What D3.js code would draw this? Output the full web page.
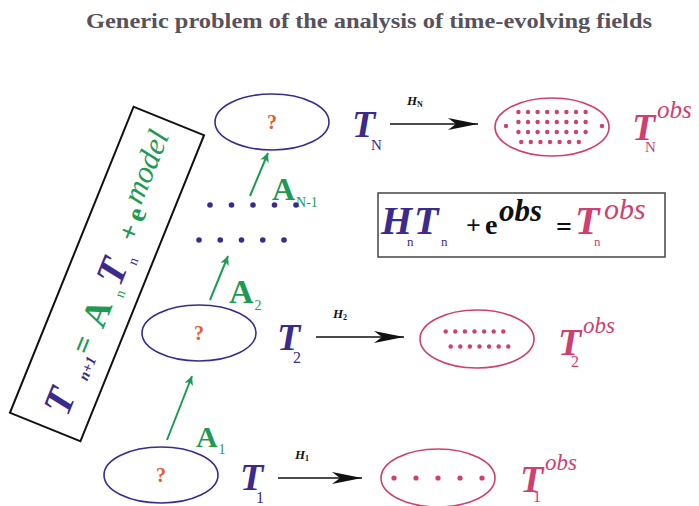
<!DOCTYPE html>
<html><head><meta charset="utf-8">
<script src="https://cdn.jsdelivr.net/npm/d3@7/dist/d3.min.js"></script>
<style>body{margin:0;background:#fff}svg{display:block}</style>
</head><body>
<script>
// ---- data ----
const title = "Generic problem of the analysis of time-evolving fields";
const levels = ["1", "2", "N"];              // state indices
const operatorLabels = ["1", "2", "N-1"];    // model operator subscripts
const obsRows = [[5], [7, 7], [8, 8, 8, 7]]; // observation dots per row, per level
const gapDots = [5, 5];                      // "..." rows between levels

const purple = "#3b2b8c", green = "#1f9a55", pink = "#cf3f70", orange = "#e0602e";
const serif = "'Liberation Serif','DejaVu Serif',serif";

const W = 699, H = 506;
const svg = d3.select("body").append("svg").attr("width", W).attr("height", H)
  .style("font-family", serif);

function rich(parent, parts) {
  const t = parent.append("text");
  parts.forEach(p => {
    t.append("tspan").attr("x", p.x).attr("y", p.y)
      .attr("font-size", p.s).attr("font-style", p.i ? "italic" : "normal")
      .attr("font-weight", p.b ? "bold" : "normal").attr("fill", p.f).text(p.t);
  });
  return t;
}

const defs = svg.append("defs");
defs.append("marker").attr("id", "blk").attr("viewBox", "0 0 30 12").attr("refX", 30).attr("refY", 6)
  .attr("markerWidth", 30).attr("markerHeight", 12).attr("markerUnits", "userSpaceOnUse").attr("orient", "auto")
  .append("path").attr("d", "M0,0 L30,6 L0,12 L8,6 Z").attr("fill", "#111");
defs.append("marker").attr("id", "grn").attr("viewBox", "0 0 12 16").attr("refX", 12).attr("refY", 6)
  .attr("markerWidth", 16).attr("markerHeight", 12).attr("markerUnits", "userSpaceOnUse").attr("orient", "auto")
  .append("path").attr("d", "M0,0 L12,6 L0,12 L3,6 Z").attr("fill", green);

// title
svg.append("text").attr("x", 86).attr("y", 28)
  .attr("font-size", 20).attr("font-weight", "bold").attr("fill", "#57525c")
  .attr("textLength", 566).attr("lengthAdjust", "spacingAndGlyphs").text(title);

const layout = [
  { sx: 161, sy: 475, tx: 240, ty: 490, ax: [278, 362], ay: 478, ox: 438, oy: 478, otx: 520, oty: 492, os: 23 },
  { sx: 199, sy: 333, tx: 277, ty: 350, ax: [316, 404], ay: 337, ox: 477, oy: 339, otx: 558, oty: 355, os: 23 },
  { sx: 272, sy: 122, tx: 352, ty: 137, ax: [390, 478], ay: 124, ox: 552, oy: 127, otx: 632, oty: 140, os: 25 }
];

levels.forEach((lv, i) => {
  const L = layout[i];
  svg.append("ellipse").attr("cx", L.sx).attr("cy", L.sy).attr("rx", 57).attr("ry", 28)
    .attr("fill", "none").attr("stroke", purple).attr("stroke-width", 1.6);
  svg.append("text").attr("x", L.sx).attr("y", L.sy + 7).attr("text-anchor", "middle")
    .attr("font-size", 20).attr("font-weight", "bold").attr("fill", orange).text("?");
  rich(svg, [
    { t: "T", x: L.tx, y: L.ty, s: 38, i: 1, b: 1, f: purple },
    { t: lv, x: L.tx + (lv === "N" ? 19 : 16), y: L.ty + 13, s: lv === "N" ? 15 : 16, f: purple }
  ]);
  svg.append("line").attr("x1", L.ax[0]).attr("x2", L.ax[1]).attr("y1", L.ay).attr("y2", L.ay)
    .attr("stroke", "#111").attr("stroke-width", 1.3).attr("marker-end", "url(#blk)");
  rich(svg, [
    { t: "H", x: L.ax[0] + 17, y: L.ay - 19, s: 13, i: 1, b: 1, f: "#111" },
    { t: lv, x: L.ax[0] + 27, y: L.ay - 17, s: 8, b: 1, f: "#111" }
  ]);
  svg.append("ellipse").attr("cx", L.ox).attr("cy", L.oy).attr("rx", 57).attr("ry", 29)
    .attr("fill", "none").attr("stroke", pink).attr("stroke-width", 1.6);
  const rows = obsRows[i];
  const gapY = rows.length === 2 ? 15 : 10;
  const ry = d3.scaleLinear().domain([0, rows.length - 1 || 1]).range([-(rows.length - 1) * gapY / 2, (rows.length - 1) * gapY / 2]);
  rows.forEach((n, r) => {
    const yy = rows.length === 1 ? 0 : ry(r);
    const step = rows.length === 1 ? 22 : 9.6;
    const span = (n - 1) * step;
    const rx = d3.scaleLinear().domain([0, n - 1]).range([-span / 2, span / 2]);
    const shift = rows.length === 2 ? r * 5 - 2.5 : (rows.length === 4 && r === 3 ? -2 : 0);
    svg.selectAll(null).data(d3.range(n)).join("circle")
      .attr("cx", d => L.ox + rx(d) + shift)
      .attr("cy", L.oy + yy).attr("r", rows.length === 1 ? 2.6 : 2.2).attr("fill", pink);
  });
  if (rows.length === 4) {
    [-46, 50].forEach(dx => svg.append("circle").attr("cx", L.ox + dx).attr("cy", L.oy - 1).attr("r", 2.2).attr("fill", pink));
  }
  rich(svg, [
    { t: "T", x: L.otx, y: L.oty, s: 38, i: 1, b: 1, f: pink },
    { t: lv, x: L.otx + 13, y: L.oty + (i === 0 ? 10 : 12), s: lv === "N" ? 15 : 16, f: pink },
    { t: "obs", x: L.otx + 25, y: L.oty - 22, s: L.os, i: 1, f: pink }
  ]);
});

const garrows = [
  { x1: 167, y1: 440, x2: 192, y2: 376, lx: 196, ly: 447, s: 30 },
  { x1: 210, y1: 300, x2: 228, y2: 256, lx: 229, ly: 303, s: 34 },
  { x1: 250, y1: 196, x2: 268, y2: 153, lx: 272, ly: 200, s: 32 }
];
operatorLabels.forEach((s, i) => {
  const g = garrows[i];
  svg.append("line").attr("x1", g.x1).attr("y1", g.y1).attr("x2", g.x2).attr("y2", g.y2)
    .attr("stroke", green).attr("stroke-width", 2).attr("marker-end", "url(#grn)");
  rich(svg, [
    { t: "A", x: g.lx, y: g.ly, s: g.s, b: 1, f: green },
    { t: s, x: g.lx + g.s * 0.72 + 1, y: g.ly + 7, s: 14, f: green }
  ]);
});

const gapRows = [{ x0: 210, x1: 296, y: 205 }, { x0: 199, x1: 284, y: 240 }];
gapDots.forEach((n, r) => {
  const G = gapRows[r];
  const gx = d3.scaleLinear().domain([0, n - 1]).range([G.x0, G.x1]);
  svg.selectAll(null).data(d3.range(n)).join("circle")
    .attr("cx", d => gx(d)).attr("cy", G.y).attr("r", 2.8).attr("fill", purple);
});

// observation equation box
svg.append("rect").attr("x", 378).attr("y", 193).attr("width", 287).attr("height", 64)
  .attr("fill", "none").attr("stroke", "#444").attr("stroke-width", 1.5);
rich(svg, [
  { t: "H", x: 381, y: 234, s: 40, i: 1, b: 1, f: purple },
  { t: "n", x: 407, y: 246, s: 13, f: purple },
  { t: "T", x: 414, y: 234, s: 40, i: 1, b: 1, f: purple },
  { t: "n", x: 441, y: 246, s: 13, f: purple },
  { t: "+", x: 466, y: 234, s: 26, b: 1, f: "#111" },
  { t: "e", x: 485, y: 234, s: 28, b: 1, f: "#111" },
  { t: "obs", x: 499, y: 221, s: 31, i: 1, b: 1, f: "#111" },
  { t: "=", x: 556, y: 236, s: 28, b: 1, f: "#111" },
  { t: "T", x: 575, y: 234, s: 40, i: 1, b: 1, f: pink },
  { t: "n", x: 594, y: 246, s: 13, f: pink },
  { t: "obs", x: 604, y: 219, s: 30, i: 1, f: pink }
]);

// rotated model equation box
const rg = svg.append("g").attr("transform", "translate(107,274) rotate(-68)");
rg.append("rect").attr("x", -165).attr("y", -38).attr("width", 330).attr("height", 76)
  .attr("fill", "none").attr("stroke", "#111").attr("stroke-width", 2);
rich(rg, [
  { t: "T", x: -148, y: 17, s: 40, i: 1, b: 1, f: purple },
  { t: "n+1", x: -107, y: 22, s: 15, i: 1, b: 1, f: purple },
  { t: "=", x: -83, y: 14, s: 30, b: 1, f: green },
  { t: "A", x: -53, y: 17, s: 36, b: 1, f: green },
  { t: "n", x: -17, y: 24, s: 14, f: green },
  { t: "T", x: -8, y: 17, s: 40, i: 1, b: 1, f: purple },
  { t: "n", x: 18, y: 24, s: 14, f: purple },
  { t: "+", x: 39, y: 14, s: 28, b: 1, f: green },
  { t: "e", x: 60, y: 14, s: 28, b: 1, f: green },
  { t: "model", x: 76, y: 6, s: 31, i: 1, f: green }
]);
</script>
</body></html>
